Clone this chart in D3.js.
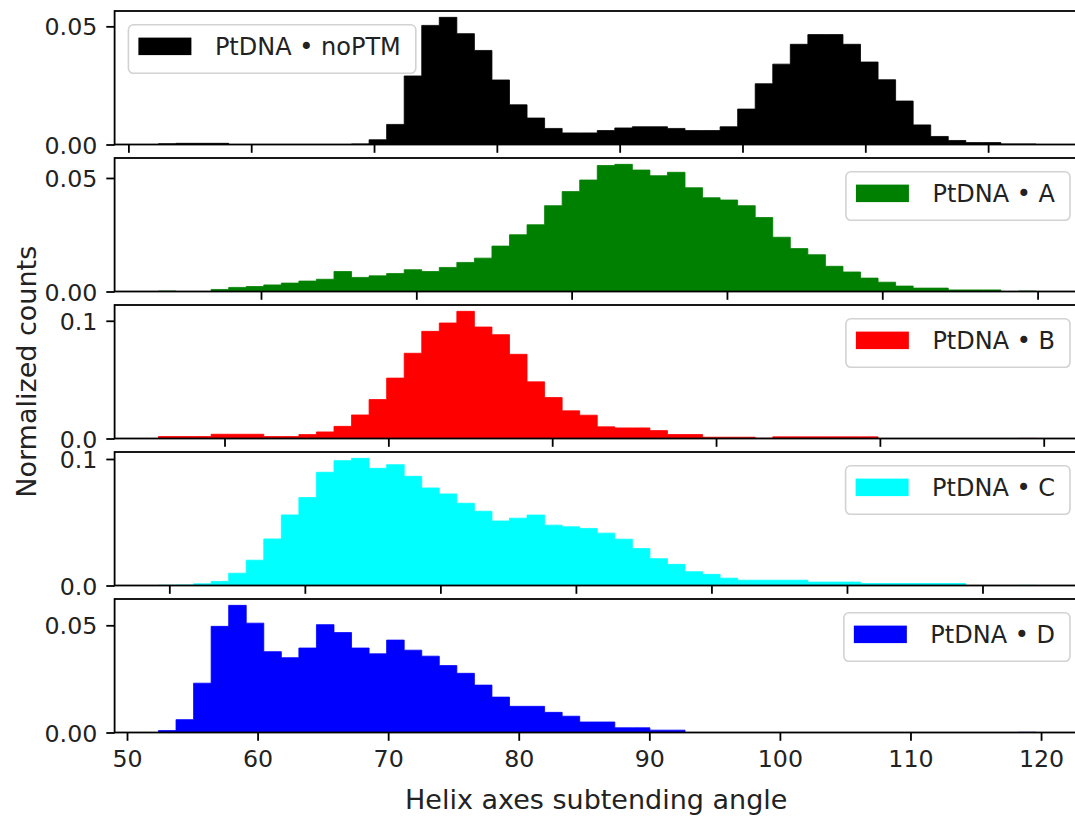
<!DOCTYPE html>
<html><head><meta charset="utf-8">
<script src="https://cdn.jsdelivr.net/npm/d3@7"></script>
<style>
body{margin:0;background:#fff}
text{font-family:"DejaVu Sans",sans-serif;fill:#222}
</style>
</head><body><svg id="c" width="1075" height="819"></svg>
<script>
// ---- data ----
const labels = ["PtDNA • noPTM", "PtDNA • A", "PtDNA • B", "PtDNA • C", "PtDNA • D"];
const colors = ["#000000", "#008000", "#ff0000", "#00ffff", "#0000ff"];
const binStarts = [52.45, 53.40, 55.97, 54.60, 52.41];
const binWidths = [1.429, 1.130, 1.0712, 0.6475, 1.3441];
const countsNoPTM = [0.0003,0.0005,0.0005,0.0005,0,0,0,0,0,0,
  0,0.0002,0.0020,0.0085,0.0290,0.0504,0.0538,0.0469,0.0398,0.0273,
  0.0168,0.0112,0.0068,0.0049,0.0049,0.0059,0.0070,0.0075,0.0075,0.0068,
  0.0059,0.0059,0.0075,0.0150,0.0257,0.0340,0.0424,0.0465,0.0465,0.0424,
  0.0349,0.0274,0.0184,0.0083,0.0034,0.0017,0.0008,0.0008,0.0002,0.0002];
const countsA = [0.0002,0,0,0.0009,0.0018,0.0022,0.0029,0.0037,0.0046,0.0054,
  0.0088,0.0062,0.0069,0.0079,0.0096,0.0088,0.0106,0.0128,0.0147,0.0200,
  0.0250,0.0294,0.0378,0.0440,0.0491,0.0555,0.0560,0.0535,0.0510,0.0525,
  0.0457,0.0413,0.0403,0.0378,0.0326,0.0239,0.0189,0.0162,0.0111,0.0086,
  0.0059,0.0041,0.0024,0.0015,0.0015,0.0007,0.0007,0.0007,0,0.0002];
const countsB = [0.0017,0.0017,0.0017,0.0036,0.0036,0.0036,0.0017,0.0017,0.0033,0.0056,
  0.0103,0.0200,0.0331,0.0513,0.0724,0.0910,0.0981,0.1080,0.0947,0.0882,
  0.0715,0.0481,0.0348,0.0235,0.0198,0.0099,0.0090,0.0090,0.0067,0.0034,
  0.0034,0.0011,0.0011,0.0011,0.0002,0.0014,0.0014,0.0014,0.0014,0.0014,
  0.0014,0,0,0,0,0,0,0,0,0.0001];
const countsC = [0.0002,0.0004,0.0013,0.0032,0.0097,0.0200,0.0368,0.0558,0.0695,0.0895,
  0.0987,0.1005,0.0926,0.0955,0.0863,0.0771,0.0724,0.0650,0.0587,0.0510,
  0.0532,0.0557,0.0477,0.0464,0.0451,0.0414,0.0366,0.0292,0.0212,0.0167,
  0.0109,0.0088,0.0058,0.0042,0.0042,0.0042,0.0042,0.0027,0.0027,0.0027,
  0.0016,0.0016,0.0016,0.0016,0.0016,0.0016,0,0,0,0.0001];
const countsD = [0.0009,0.0060,0.0230,0.0495,0.0593,0.0510,0.0377,0.0349,0.0394,0.0503,
  0.0466,0.0394,0.0367,0.0431,0.0384,0.0356,0.0312,0.0276,0.0221,0.0165,
  0.0122,0.0122,0.0094,0.0076,0.0049,0.0049,0.0022,0.0022,0.0011,0.0011,
  0,0,0,0,0,0,0,0,0,0,
  0,0,0,0,0,0,0,0,0,0.0001];
const xTicks = [
  [50,60,70,80,90,100,110,120],
  [60,70,80,90,100,110],
  [60,70,80,90,100,110],
  [55,60,65,70,75,80,85],
  [50,60,70,80,90,100,110,120]
];
const xTickLabelsBottom = ["50","60","70","80","90","100","110","120"];
const yTicks = [[0,0.05],[0,0.05],[0,0.1],[0,0.1],[0,0.05]];
const yTickLabels = [["0.00","0.05"],["0.00","0.05"],["0.0","0.1"],["0.0","0.1"],["0.00","0.05"]];
const legendLoc = ["left","right","right","right","right"];
const xLabel = "Helix axes subtending angle";
const yLabel = "Normalized counts";

const allCounts = [countsNoPTM, countsA, countsB, countsC, countsD];

// ---- layout ----
const L = 114.6, R = 1079.9;
const top0 = 11, pitch = 147, ph = 133.5;
const FS = 23.7, LFS = 24, AFS = 27, tickLen = 8.3, lw = 1.8;

const svg = d3.select("#c");

allCounts.forEach((counts, i) => {
  const m = binStarts[i], w = binWidths[i], n = counts.length;
  const x = d3.scaleLinear().domain([m - 0.05*n*w, m + n*w + 0.05*n*w]).range([L, R]);
  const ymax = d3.max(counts) * 1.05;
  const t = top0 + i*pitch, b = t + ph;
  const y = d3.scaleLinear().domain([0, ymax]).range([b, t]);
  const g = svg.append("g");

  // step-filled histogram
  const pts = [];
  counts.forEach((v, k) => { pts.push([m + k*w, v]); pts.push([m + (k+1)*w, v]); });
  const area = d3.area().x(d => x(d[0])).y0(y(0)).y1(d => y(d[1]));
  g.append("path").attr("d", area(pts))
    .attr("fill", colors[i]).attr("stroke", colors[i]).attr("stroke-width", 0.8);

  // x axis
  const xa = d3.axisBottom(x).tickValues(xTicks[i]).tickSize(tickLen).tickPadding(8.3)
    .tickFormat(i === 4 ? ((d, k) => xTickLabelsBottom[k]) : () => "");
  const xg = g.append("g").attr("transform", `translate(0,${b})`).call(xa);
  xg.select(".domain").remove();
  xg.selectAll("line").attr("stroke", "#000").attr("stroke-width", lw);
  xg.selectAll("text").attr("font-size", FS).attr("fill", "#222")
    .attr("font-family", "DejaVu Sans").attr("dy", "0.77em");

  // y axis
  const ya = d3.axisLeft(y).tickValues(yTicks[i]).tickSize(tickLen).tickPadding(9)
    .tickFormat((d, k) => yTickLabels[i][k]);
  const yg = g.append("g").attr("transform", `translate(${L},0)`).call(ya);
  yg.select(".domain").remove();
  yg.selectAll("line").attr("stroke", "#000").attr("stroke-width", lw);
  yg.selectAll("text").attr("font-size", FS).attr("fill", "#222")
    .attr("font-family", "DejaVu Sans").attr("dy", "0.36em");

  // frame
  g.append("rect").attr("x", L).attr("y", t).attr("width", R - L).attr("height", ph)
    .attr("fill", "none").attr("stroke", "#000").attr("stroke-width", lw);

  // legend
  const lg = g.append("g");
  const txt = lg.append("text").attr("font-size", LFS).text(labels[i]);
  const tl = txt.node().getComputedTextLength();
  const bw = 10 + 53 + 23.5 + tl + 15, bh = 48.5;
  const bx = legendLoc[i] === "left" ? L + 13.8 : R - 9.9 - bw;
  const by = t + 13.8;
  lg.insert("rect", "text").attr("x", bx).attr("y", by).attr("width", bw).attr("height", bh)
    .attr("rx", 5).attr("fill", "#fff").attr("fill-opacity", 0.8)
    .attr("stroke", "#d2d2d2").attr("stroke-width", 1.6);
  lg.insert("rect", "text").attr("x", bx + 10).attr("y", by + 21.5 - 8.7).attr("width", 53).attr("height", 17.5)
    .attr("fill", colors[i]);
  txt.attr("x", bx + 10 + 53 + 23.5).attr("y", by + 30);
});

// axis labels
svg.append("text").attr("x", (L + R) / 2 - 1).attr("y", 809).attr("text-anchor", "middle")
  .attr("font-size", AFS).text(xLabel);
svg.append("text").attr("transform", `translate(36,${top0 + (4*pitch + ph)/2}) rotate(-90)`)
  .attr("text-anchor", "middle").attr("font-size", AFS).text(yLabel);
</script>
</body></html>
